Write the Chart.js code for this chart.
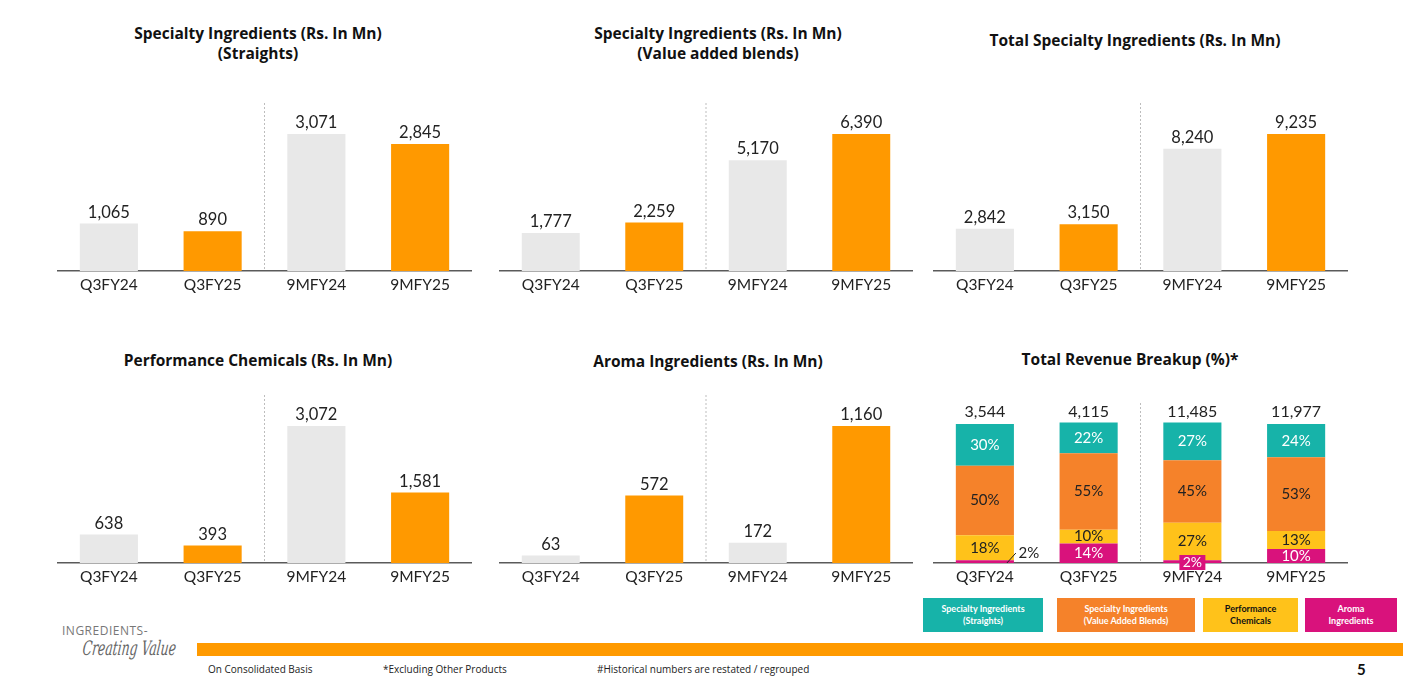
<!DOCTYPE html>
<html>
<head>
<meta charset="utf-8">
<script src="https://cdn.jsdelivr.net/npm/chart.js@4.4.1/dist/chart.umd.min.js"></script>
<style>
  html, body { margin: 0; padding: 0; background: #fff; }
  body { width: 1403px; height: 685px; position: relative; overflow: hidden; font-family: Lato, "Open Sans", sans-serif; color: #222; }
  .title { position: absolute; font-family: "Open Sans", sans-serif; font-weight: bold; font-size: 15.5px; line-height: 20px; text-align: center; color: #111; }
  canvas { position: absolute; }
  .leg { position: absolute; top: 598px; height: 34px; display: flex; align-items: center; justify-content: center;
         text-align: center; font-size: 9px; font-weight: bold; line-height: 12px; }
  .foot { position: absolute; top: 662px; font-size: 10px; color: #222; font-family: "Open Sans", sans-serif; }
</style>
</head>
<body>

<div class="title" style="left:58px;width:400px;top:23px;">Specialty Ingredients (Rs. In Mn)<br>(Straights)</div>
<div class="title" style="left:498px;width:440px;top:23px;">Specialty Ingredients (Rs. In Mn)<br>(Value added blends)</div>
<div class="title" style="left:935px;width:400px;top:30px;">Total Specialty Ingredients (Rs. In Mn)</div>
<div class="title" style="left:58px;width:400px;top:350px;">Performance Chemicals (Rs. In Mn)</div>
<div class="title" style="left:498px;width:420px;top:351px;">Aroma Ingredients (Rs. In Mn)</div>
<div class="title" style="left:930px;width:400px;top:349px;">Total Revenue Breakup (%)*</div>

<canvas id="c1" width="415" height="196" style="left:57px;top:103px;"></canvas>
<canvas id="c2" width="414" height="196" style="left:499px;top:103px;"></canvas>
<canvas id="c3" width="415" height="196" style="left:933px;top:103px;"></canvas>
<canvas id="c4" width="415" height="196" style="left:57px;top:395px;"></canvas>
<canvas id="c5" width="414" height="196" style="left:499px;top:395px;"></canvas>
<canvas id="c6" width="415" height="196" style="left:933px;top:395px;"></canvas>

<div class="leg" style="left:923px;width:120px;background:#17B3A9;color:#fff;">Specialty Ingredients<br>(Straights)</div>
<div class="leg" style="left:1057px;width:138px;background:#F5822A;color:#fff;">Specialty Ingredients<br>(Value Added Blends)</div>
<div class="leg" style="left:1203px;width:95px;background:#FFC21A;color:#111;">Performance<br>Chemicals</div>
<div class="leg" style="left:1305px;width:92px;background:#D9127C;color:#fff;">Aroma<br>Ingredients</div>

<div style="position:absolute;left:62px;top:622px;font-size:12px;color:#777;letter-spacing:0.5px;font-family:'Open Sans',sans-serif;">INGREDIENTS-</div>
<div style="position:absolute;left:84px;top:636px;font-size:20px;color:#666;font-style:italic;font-family:'DejaVu Serif',serif;transform-origin:left top;transform:scaleX(0.62) skewX(-10deg);white-space:nowrap;">Creating Value</div>
<div style="position:absolute;left:197px;top:643px;width:1206px;height:13px;background:#FF9A00;"></div>
<div class="foot" style="left:208px;">On Consolidated Basis</div>
<div class="foot" style="left:383px;">*Excluding Other Products</div>
<div class="foot" style="left:597px;">#Historical numbers are restated / regrouped</div>
<div style="position:absolute;left:1357px;top:660px;font-size:15px;font-weight:bold;color:#111;">5</div>

<script>
// ─── Data ─────────────────────────────────────────────────────────────────────
const PERIODS = ['Q3FY24', 'Q3FY25', '9MFY24', '9MFY25'];

const straights   = [1065, 890, 3071, 2845];
const blends      = [1777, 2259, 5170, 6390];
const totalSpec   = [2842, 3150, 8240, 9235];
const perfChem    = [638, 393, 3072, 1581];
const aroma       = [63, 572, 172, 1160];

const revTotals   = [3544, 4115, 11485, 11977];
const mixStraight = [30, 22, 27, 24];
const mixBlends   = [50, 55, 45, 53];
const mixPerf     = [18, 10, 27, 13];
const mixAroma    = [2, 14, 2, 10];

const GREY = '#E8E8E8';
const ORANGE = '#FF9900';
const AREA_H = 168;      // plot height in px
const TOP_BAR_PX = 137;  // height of tallest bar
const FONT = 'Lato, "Open Sans", sans-serif';

const fmt = n => n.toLocaleString('en-US');

// ─── Plugins ──────────────────────────────────────────────────────────────────
const divider = {
  id: 'divider',
  afterDatasetsDraw(chart, args, opts) {
    const x = chart.scales.x;
    const px = (x.getPixelForValue(1) + x.getPixelForValue(2)) / 2;
    const ctx = chart.ctx;
    ctx.save();
    ctx.strokeStyle = '#BDBDBD';
    ctx.lineWidth = 1;
    ctx.setLineDash([2, 2]);
    ctx.beginPath();
    ctx.moveTo(px, chart.chartArea.top + (opts.top || 0));
    ctx.lineTo(px, chart.chartArea.bottom - (opts.bottom || 0));
    ctx.stroke();
    ctx.restore();
  }
};

const valueLabels = {
  id: 'valueLabels',
  afterDatasetsDraw(chart) {
    const ctx = chart.ctx;
    const meta = chart.getDatasetMeta(0);
    const data = chart.data.datasets[0].data;
    ctx.save();
    ctx.font = '16.5px ' + FONT;
    ctx.fillStyle = '#222';
    ctx.textAlign = 'center';
    ctx.textBaseline = 'bottom';
    meta.data.forEach((bar, i) => ctx.fillText(fmt(data[i]), bar.x, bar.y - 3));
    ctx.restore();
  }
};

const xAxis = extra => Object.assign({
  grid: { display: false, drawTicks: false },
  border: { display: true, color: '#5A5A5A', width: 1.5 },
  ticks: { color: '#222', padding: 5, font: { size: 15.5, family: FONT } },
  afterFit(s) { s.height = 28; },
}, extra);

// ─── Simple bar chart ─────────────────────────────────────────────────────────
function simpleBar(id, values) {
  const ymax = Math.max(...values) * AREA_H / TOP_BAR_PX;
  new Chart(document.getElementById(id), {
    type: 'bar',
    data: {
      labels: PERIODS,
      datasets: [{
        data: values,
        backgroundColor: [GREY, ORANGE, GREY, ORANGE],
        categoryPercentage: 1,
        barPercentage: 0.56,
      }],
    },
    options: {
      responsive: false,
      animation: false,
      layout: { padding: 0 },
      plugins: { legend: { display: false }, tooltip: { enabled: false }, divider: {} },
      scales: {
        y: { display: false, min: 0, max: ymax },
        x: xAxis({}),
      },
    },
    plugins: [divider, valueLabels],
  });
}

simpleBar('c1', straights);
simpleBar('c2', blends);
simpleBar('c3', totalSpec);
simpleBar('c4', perfChem);
simpleBar('c5', aroma);

// ─── Stacked revenue mix ──────────────────────────────────────────────────────
const mixLabels = {
  id: 'mixLabels',
  afterDatasetsDraw(chart) {
    const ctx = chart.ctx;
    ctx.save();
    ctx.font = '15px ' + FONT;
    ctx.textAlign = 'center';
    ctx.textBaseline = 'middle';
    chart.data.datasets.forEach((ds, di) => {
      chart.getDatasetMeta(di).data.forEach((bar, i) => {
        const v = ds.data[i];
        const txt = v + '%';
        const mid = (bar.y + bar.base) / 2;
        if (v <= 2) {
          if (i === 0) {
            // leader line out to the right
            ctx.strokeStyle = '#222';
            ctx.lineWidth = 1;
            ctx.beginPath();
            ctx.moveTo(bar.x + 22, bar.base);
            ctx.lineTo(bar.x + 31, bar.base - 10);
            ctx.stroke();
            ctx.fillStyle = '#222';
            ctx.fillText(txt, bar.x + 44, bar.base - 10);
          } else {
            ctx.fillStyle = ds.backgroundColor;
            ctx.fillRect(bar.x - 13, bar.base - 8, 26, 15);
            ctx.fillStyle = '#fff';
            ctx.font = '14px ' + FONT;
            ctx.fillText(txt, bar.x, bar.base - 0.5);
            ctx.font = '15px ' + FONT;
          }
          return;
        }
        ctx.fillStyle = ds.labelColor;
        ctx.fillText(txt, bar.x, mid);
      });
    });
    // totals above
    const top = chart.getDatasetMeta(chart.data.datasets.length - 1).data;
    ctx.font = '16px ' + FONT;
    ctx.fillStyle = '#222';
    ctx.textBaseline = 'bottom';
    top.forEach((bar, i) => ctx.fillText(fmt(revTotals[i]), bar.x, chart.chartArea.top + 25));
    ctx.restore();
  }
};

const stackDs = (data, color, labelColor) => ({
  data, backgroundColor: color, labelColor,
  categoryPercentage: 1, barPercentage: 0.56,
});

new Chart(document.getElementById('c6'), {
  type: 'bar',
  data: {
    labels: PERIODS,
    datasets: [
      stackDs(mixAroma, '#D9127C', '#fff'),
      stackDs(mixPerf, '#FFC21A', '#222'),
      stackDs(mixBlends, '#F5822A', '#222'),
      stackDs(mixStraight, '#17B3A9', '#fff'),
    ],
  },
  options: {
    responsive: false,
    animation: false,
    layout: { padding: 0 },
    plugins: { legend: { display: false }, tooltip: { enabled: false }, divider: { top: 8 } },
    scales: {
      y: { display: false, stacked: true, min: 0, max: 100 * AREA_H / 139 },
      x: xAxis({ stacked: true }),
    },
  },
  plugins: [divider, mixLabels],
});
</script>
</body>
</html>
